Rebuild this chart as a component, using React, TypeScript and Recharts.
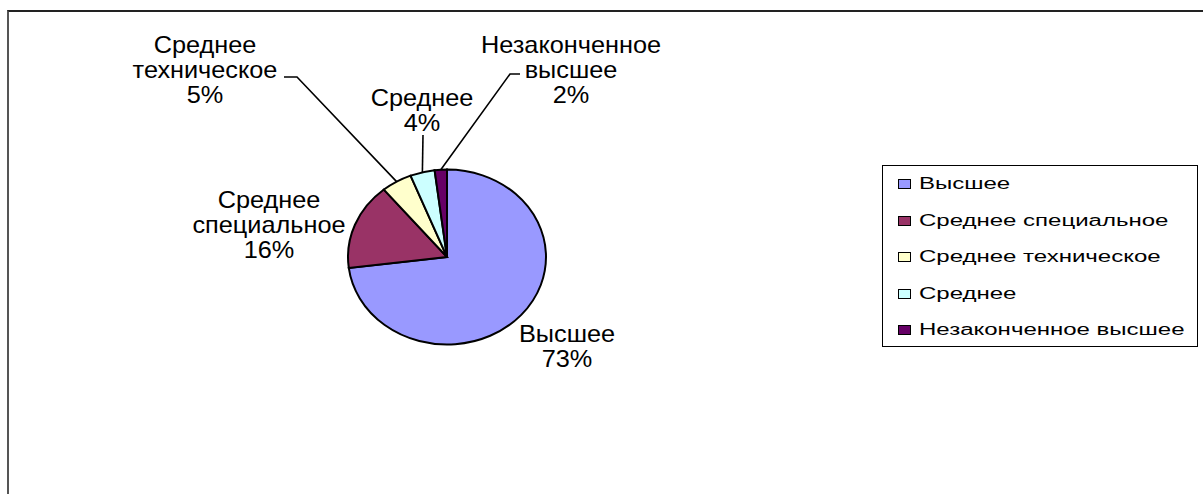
import React from 'react';
import { PieChart, Pie, Cell, Legend } from 'recharts';

// ---- data ----
const categories = ['Высшее', 'Среднее специальное', 'Среднее техническое', 'Среднее', 'Незаконченное высшее'];
const shares = [73, 16, 5, 4, 2];
const labelLines = [
  ['Высшее'],
  ['Среднее', 'специальное'],
  ['Среднее', 'техническое'],
  ['Среднее'],
  ['Незаконченное', 'высшее'],
];
const colors = ['#9999FF', '#993366', '#FFFFCC', '#CCFFFF', '#660066'];

// ---- layout (label placement relative to the pie centre) ----
const labelLayout: { dx: number; dy: number; leader: number[][] | null }[] = [
  { dx: 120, dy: 77, leader: null },
  { dx: -178, dy: -57, leader: null },
  { dx: -242, dy: -212, leader: [[-150, -180], [-163, -180]] },
  { dx: -25, dy: -159, leader: [[-24, -122]] },
  { dx: 124, dy: -212, leader: [[63, -183], [73, -183]] },
];

const W = 1203;
const H = 494;
const CX = 447;
const CY = 257;
const R = 99;
const K = 0.884; // vertical squash of the pie (ellipse)
const FONT = '"Liberation Sans", Arial, sans-serif';

const data = categories.map((name, i) => ({ name, value: shares[i] }));

const renderLabel = (props: any) => {
  const { cx, cy, midAngle, outerRadius, percent, index } = props;
  const RAD = Math.PI / 180;
  const ex = cx + outerRadius * Math.cos(-midAngle * RAD);
  const ey = cy + outerRadius * K * Math.sin(-midAngle * RAD);
  const lay = labelLayout[index];
  const lines = [...labelLines[index], `${Math.round(percent * 100)}%`];
  const tx = cx + lay.dx;
  const ty = cy + lay.dy;
  let leader = null;
  if (lay.leader) {
    const pts = [[ex, ey], ...lay.leader.map(([a, b]) => [cx + a, cy + b])];
    leader = (
      <polyline
        points={pts.map((p) => `${p[0]},${p[1]}`).join(' ')}
        fill="none"
        stroke="#000"
        strokeWidth={1.6}
      />
    );
  }
  return (
    <g key={`lbl-${index}`}>
      {leader}
      <text
        textAnchor="middle"
        fontFamily={FONT}
        fontSize={23}
        fill="#000"
        transform={`translate(${tx} 0) scale(1.1 1)`}
      >
        {lines.map((l, i) => (
          <tspan key={i} x={0} y={ty + 8 + i * 25}>
            {l}
          </tspan>
        ))}
      </text>
    </g>
  );
};

const renderLegend = () => {
  return (
    <div
      style={{
        position: 'relative',
        width: 316,
        height: 182,
        boxSizing: 'border-box',
        border: '1.5px solid #000',
        background: '#fff',
        fontFamily: FONT,
        fontSize: 16,
        color: '#000',
      }}
    >
      {categories.map((name, i) => (
        <div
          key={name}
          style={{ position: 'absolute', left: 15, top: 18 + i * 36.5 - 10, height: 20, display: 'flex', alignItems: 'center', whiteSpace: 'nowrap' }}
        >
          <span
            style={{
              display: 'inline-block',
              width: 13,
              height: 10,
              boxSizing: 'border-box',
              border: '1.5px solid #000',
              background: colors[i],
              marginRight: 8,
            }}
          />
          <span style={{ display: 'inline-block', transform: 'scaleX(1.5)', transformOrigin: 'left center' }}>
            {name}
          </span>
        </div>
      ))}
    </div>
  );
};

export default function App() {
  return (
    <div style={{ position: 'fixed', left: 0, top: 0, width: W, height: H, background: '#fff', overflow: 'hidden' }}>
      <style>{`
        .squash path.recharts-sector {
          transform-box: view-box;
          transform-origin: ${CX}px ${CY}px;
          transform: scaleY(${K});
          vector-effect: non-scaling-stroke;
        }
      `}</style>
      <div
        style={{
          position: 'absolute',
          left: 7,
          top: 10,
          width: W - 7,
          height: H - 10,
          boxSizing: 'border-box',
          borderTop: '2px solid #222',
          borderLeft: '2px solid #555',
        }}
      />
      <div className="squash" style={{ position: 'absolute', left: 0, top: 0 }}>
        <PieChart width={W} height={H} margin={{ top: 0, right: 0, bottom: 0, left: 0 }}>
          <Pie
            data={data}
            dataKey="value"
            nameKey="name"
            cx={CX}
            cy={CY}
            outerRadius={R}
            startAngle={90}
            endAngle={-270}
            stroke="#000"
            strokeWidth={2}
            label={renderLabel}
            labelLine={false}
            isAnimationActive={false}
          >
            {data.map((d, i) => (
              <Cell key={d.name} fill={colors[i]} />
            ))}
          </Pie>
          <Legend
            content={renderLegend}
            wrapperStyle={{ position: 'absolute', left: 882, top: 165, width: 316, height: 182 }}
          />
        </PieChart>
      </div>
    </div>
  );
}
